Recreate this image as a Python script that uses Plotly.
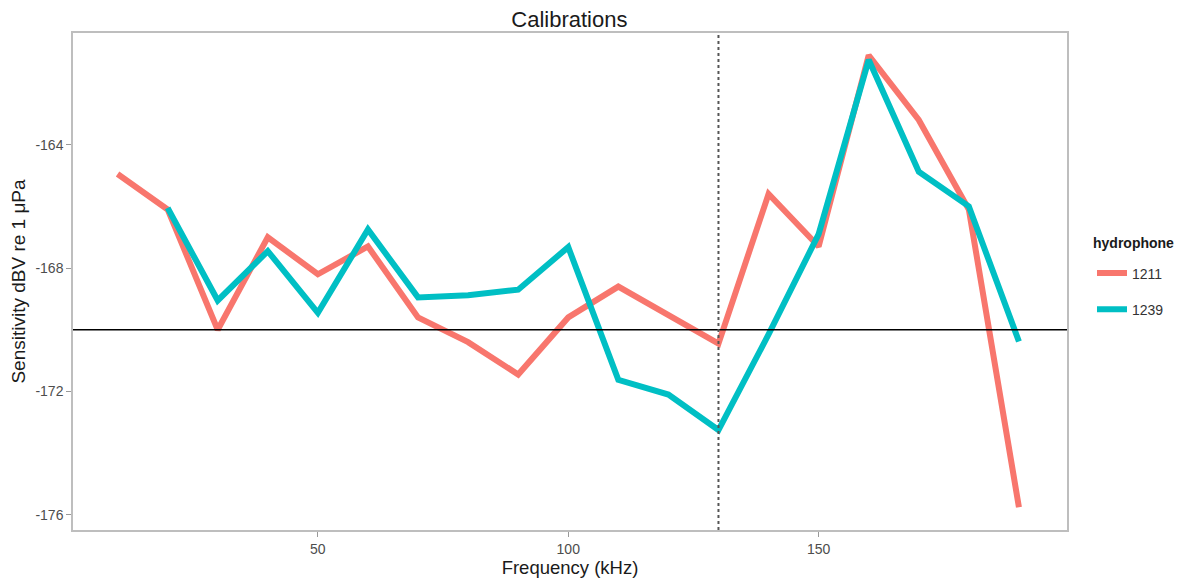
import plotly.graph_objects as go

freq_1211 = [10, 20, 30, 40, 50, 60, 70, 80, 90, 100, 110, 120, 130, 140, 150, 160, 170, 180, 190]
sens_1211 = [-164.95, -166.1, -170.0, -167.0, -168.2, -167.3, -169.6, -170.4, -171.45, -169.6,
             -168.6, -169.5, -170.45, -165.6, -167.3, -161.1, -163.2, -166.1, -175.75]
freq_1239 = [20, 30, 40, 50, 60, 70, 80, 90, 100, 110, 120, 130, 140, 150, 160, 170, 180, 190]
sens_1239 = [-166.05, -169.05, -167.45, -169.45, -166.75, -168.95, -168.88, -168.7, -167.32,
             -171.62, -172.1, -173.25, -170.15, -166.9, -161.25, -164.88, -166.0, -170.38]

ref_level = -170
ref_freq = 130
x_ticks = [50, 100, 150]
y_ticks = [-176, -172, -168, -164]

fig = go.Figure()
fig.add_trace(go.Scatter(x=freq_1211, y=sens_1211, mode="lines", name="1211", legendgroup="a",
                         line=dict(color="#F8766D", width=6)))
fig.add_trace(go.Scatter(x=freq_1239, y=sens_1239, mode="lines", name="1239", legendgroup="b",
                         line=dict(color="#00BFC4", width=6)))

fig.add_hline(y=ref_level, line=dict(color="black", width=1.4))
fig.add_vline(x=ref_freq, line=dict(color="#555555", width=2, dash="dot"))

axis_common = dict(showgrid=False, zeroline=False, showline=True, mirror=True,
                   linecolor="#BEBEBE", linewidth=1.5, ticks="outside", ticklen=5,
                   tickcolor="#999999", tickwidth=1, automargin=False,
                   tickfont=dict(family="Liberation Sans", size=14, color="#4D4D4D"))

fig.update_layout(
    width=1183, height=579,
    margin=dict(l=73, r=116, t=33, b=49),
    paper_bgcolor="white", plot_bgcolor="white",
    title=dict(text="Calibrations", x=0.4813, xanchor="center", y=0.967, yanchor="middle",
               automargin=False,
               font=dict(family="Liberation Sans", size=22, color="#1A1A1A")),
    xaxis=dict(range=[1.1, 199.6], tickvals=x_ticks, ticktext=[str(v) for v in x_ticks],
               title=dict(text="Frequency (kHz)", standoff=6,
                          font=dict(family="Liberation Sans", size=18.5, color="#1A1A1A")),
               **axis_common),
    yaxis=dict(range=[-176.49, -160.38], tickvals=y_ticks, ticktext=[str(v) for v in y_ticks],
               title=dict(text="Sensitivity dBV re 1 μPa", standoff=5,
                          font=dict(family="Liberation Sans", size=19, color="#1A1A1A")),
               **axis_common),
    legend=dict(font=dict(family="Liberation Sans", size=14, color="#333333"),
                xref="container", yref="container",
                x=1092 / 1183, xanchor="left", y=1 - 291.5 / 579, yanchor="middle",
                tracegroupgap=15, itemwidth=30, bgcolor="rgba(0,0,0,0)"),
    showlegend=True,
    annotations=[dict(text="<b>hydrophone</b>", xref="paper", yref="paper",
                      x=(1091 - 73) / 994, xanchor="left",
                      y=(530 - 243) / 497, yanchor="middle", showarrow=False,
                      font=dict(family="Liberation Sans", size=14, color="#1A1A1A"))],
)

fig.write_html("out.html")
